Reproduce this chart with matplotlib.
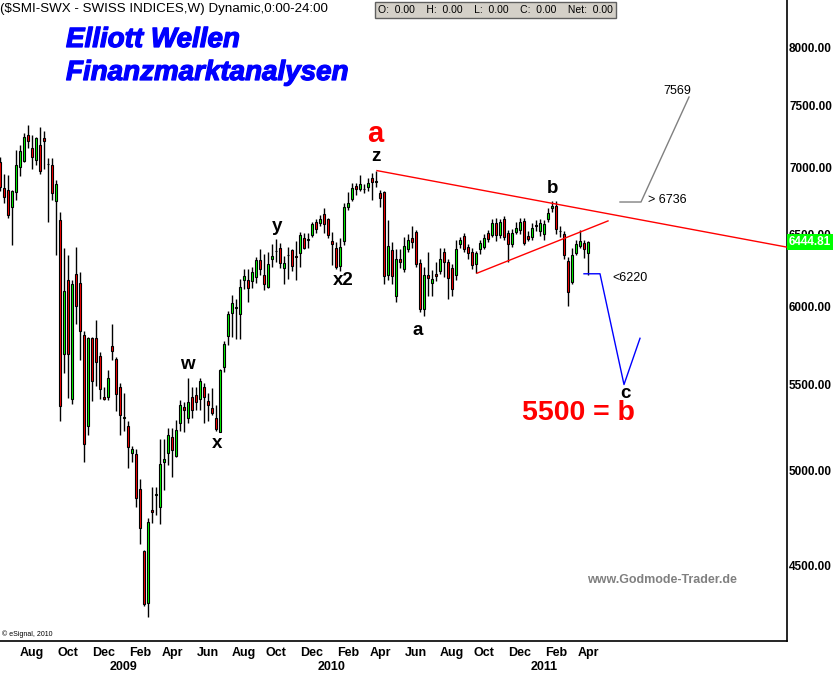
import matplotlib
matplotlib.use("Agg")
import matplotlib.pyplot as plt
import matplotlib.patheffects as pe
import matplotlib.transforms as mtransforms
from matplotlib.ticker import FixedLocator, NullLocator
import numpy as np
import pandas as pd

# weekly SMI candles, bars dated by week end (Friday)
START_DATE = "2008-06-06"

opens = [7040, 6840, 6826, 6700, 6810, 7000, 7050, 7255, 7150, 7056, 7175, 7230, 7030, 7020, 6745,
         6604, 5690, 6180, 5410, 6220, 6160, 5810, 5250, 5790, 5790, 5680, 5425, 5425, 5740, 5660,
         5485, 5300, 5250, 5096, 5090, 4900, 4570, 4315, 4785, 4865, 4800, 5045, 5095, 5190, 5080,
         5270, 5365, 5300, 5425, 5435, 5410, 5485, 5400, 5360, 5300, 5220, 5607, 5803, 5955, 5988,
         5945, 6180, 6175, 6170, 6195, 6315, 6210, 6130, 6320, 6376, 6404, 6258, 6348, 6383, 6341,
         6362, 6475, 6461, 6496, 6589, 6582, 6648, 6611, 6454, 6404, 6271, 6447, 6699, 6759, 6857,
         6834, 6834, 6849, 6917, 6890, 6804, 6811, 6210, 6383, 6069, 6320, 6251, 6390, 6475, 6518,
         6292, 5983, 6210, 6156, 6217, 6237, 6369, 6299, 6258, 6210, 6432, 6489, 6411, 6369, 6285,
         6390, 6411, 6510, 6496, 6582, 6496, 6611, 6510, 6432, 6518, 6532, 6596, 6489, 6482, 6568,
         6525, 6503, 6611, 6692, 6707, 6525, 6503, 6306, 6163, 6362, 6418, 6439, 6362]
highs = [7080, 6950, 6940, 6830, 7140, 7180, 7270, 7340, 7255, 7240, 7325, 7285, 7070, 7070, 6900,
         6660, 6400, 6350, 6180, 6410, 6230, 5840, 5800, 5800, 5910, 5700, 5485, 5590, 5880, 5670,
         5510, 5450, 5280, 5140, 5120, 4950, 4575, 4740, 4910, 4910, 5175, 5175, 5240, 5240, 5290,
         5405, 5395, 5540, 5485, 5485, 5540, 5510, 5450, 5480, 5375, 5595, 5775, 5970, 6075, 6050,
         6185, 6250, 6250, 6270, 6340, 6390, 6360, 6370, 6430, 6465, 6439, 6341, 6411, 6390, 6447,
         6518, 6510, 6510, 6590, 6611, 6640, 6690, 6620, 6518, 6440, 6470, 6730, 6811, 6880, 6880,
         6940, 6870, 6920, 6960, 6975, 6830, 6819, 6604, 6440, 6390, 6390, 6480, 6500, 6560, 6530,
         6320, 6270, 6369, 6245, 6300, 6404, 6404, 6320, 6290, 6461, 6480, 6510, 6430, 6400, 6380,
         6460, 6500, 6530, 6610, 6620, 6610, 6630, 6530, 6540, 6590, 6620, 6620, 6520, 6580, 6600,
         6610, 6600, 6690, 6740, 6740, 6560, 6520, 6334, 6400, 6460, 6530, 6460, 6450]
lows = [6820, 6730, 6620, 6420, 6750, 6930, 7040, 7150, 6985, 7020, 6950, 6985, 6590, 6750, 6350,
        5280, 5570, 5420, 5380, 5880, 5650, 5045, 5200, 5400, 5490, 5410, 5405, 5405, 5650, 5340,
        5200, 5225, 5015, 5045, 4800, 4610, 4300, 4250, 4715, 4760, 4710, 4890, 5030, 4965, 5075,
        5226, 5220, 5270, 5300, 5345, 5345, 5270, 5280, 5315, 5225, 5215, 5580, 5750, 5800, 5785,
        5785, 6115, 6030, 6120, 6155, 6210, 6110, 6125, 6265, 6305, 6258, 6149, 6183, 6237, 6176,
        6264, 6390, 6404, 6480, 6510, 6560, 6510, 6470, 6278, 6251, 6240, 6420, 6680, 6740, 6790,
        6820, 6800, 6820, 6751, 6850, 6700, 6150, 6180, 6149, 6029, 6260, 6230, 6370, 6400, 6270,
        5960, 5937, 6069, 6069, 6170, 6220, 6197, 6049, 6069, 6180, 6400, 6370, 6320, 6250, 6224,
        6360, 6390, 6440, 6480, 6450, 6470, 6460, 6300, 6410, 6500, 6500, 6420, 6450, 6460, 6520,
        6490, 6460, 6590, 6660, 6500, 6480, 6320, 6003, 6150, 6350, 6400, 6330, 6210]
closes = [6850, 6775, 6640, 6819, 7017, 7128, 7241, 7210, 7080, 7230, 6970, 7210, 7025, 6800, 6872,
          5370, 6100, 5690, 6150, 6000, 5840, 5150, 5790, 5520, 5640, 5470, 5410, 5540, 5710, 5440,
          5315, 5305, 5130, 5119, 4850, 4690, 4310, 4720, 4775, 4870, 5034, 5065, 5200, 5115, 5230,
          5375, 5345, 5395, 5345, 5395, 5520, 5425, 5375, 5330, 5235, 5588, 5752, 5950, 6020, 5992,
          6128, 6203, 6125, 6230, 6315, 6250, 6150, 6285, 6341, 6380, 6292, 6292, 6352, 6271, 6334,
          6496, 6404, 6465, 6575, 6539, 6611, 6575, 6496, 6432, 6264, 6411, 6699, 6729, 6841, 6834,
          6872, 6836, 6879, 6887, 6895, 6767, 6203, 6418, 6203, 6320, 6299, 6418, 6461, 6440, 6285,
          5983, 6210, 6190, 6183, 6203, 6320, 6299, 6190, 6115, 6397, 6461, 6390, 6362, 6278, 6362,
          6439, 6475, 6468, 6582, 6496, 6589, 6482, 6432, 6510, 6546, 6589, 6439, 6468, 6546, 6560,
          6582, 6575, 6655, 6707, 6539, 6520, 6348, 6095, 6348, 6432, 6454, 6397, 6444.81]

LAST_PRICE = 6444.81
PRICE_TICKS = [4500, 5000, 5500, 6000, 6500, 7000, 7500, 8000]

# drawn lines (week index, price)
upper_line_x = [94.25, 198.0]
upper_line_y = [6975, 6400]
lower_line_x = [119.25, 152.0]
lower_line_y = [6224, 6596]
target_up_x = [155.0, 160.25, 172.25]
target_up_y = [6736, 6736, 7569]
target_down_x = [146.0, 150.0, 156.0, 160.0]
target_down_y = [6220, 6220, 5500, 5790]

# wave labels (text, week index, price, colour, size)
wave_labels = [
    ("a", 93.75, 7265, "red", 21),
    ("z", 94.0, 7088, "black", 13.5),
    ("y", 69.25, 6558, "black", 13.5),
    ("x2", 85.75, 6176, "black", 13.5),
    ("w", 46.75, 5626, "black", 13.5),
    ("x", 54.25, 5152, "black", 13.5),
    ("a", 104.5, 5842, "black", 13.5),
    ("b", 138.25, 6840, "black", 13.5),
    ("c", 156.25, 5448, "black", 13.5),
]

W, H = 834, 675
fig = plt.figure(figsize=(W / 100, H / 100), dpi=100)
ax = fig.add_axes([0, 1 - 641 / H, 787 / W, 641 / H])

o = np.array(opens, dtype=float)
hi = np.array(highs, dtype=float)
lo = np.array(lows, dtype=float)
c = np.array(closes, dtype=float)
x = np.arange(len(c))
colors = np.where(c >= o, "#00FF00", "#FF0000")

ax.set_yscale("log")
ax.vlines(x, lo, hi, color="black", linewidth=1.0, zorder=2)
body = np.maximum(np.abs(c - o), 2.0)
ax.bar(x, body, bottom=np.minimum(o, c), width=0.6, color=colors,
       edgecolor="black", linewidth=0.8, zorder=3)

ax.plot(upper_line_x, upper_line_y, color="red", linewidth=1.0, zorder=4)
ax.plot(lower_line_x, lower_line_y, color="red", linewidth=1.0, zorder=4)
ax.plot(target_up_x, target_up_y, color="#808080", linewidth=1.0, zorder=4)
ax.plot(target_down_x, target_down_y, color="#0000FF", linewidth=1.0, zorder=4)

ax.set_xlim(0, 787 / 4)
ax.set_ylim(4137, 8430)

# right price axis
ax.yaxis.tick_right()
ax.yaxis.set_major_locator(FixedLocator(PRICE_TICKS))
ax.yaxis.set_minor_locator(NullLocator())
ax.set_yticklabels([f"{p:.2f}" for p in PRICE_TICKS])
ax.tick_params(axis="y", length=0, pad=1.5, labelsize=8.5)
for lbl in ax.get_yticklabels():
    lbl.set_fontweight("bold")
    lbl.set_fontfamily("Liberation Sans")

# month / year axis
dates = pd.date_range(START_DATE, periods=len(c), freq="W-FRI")
tick_pos, tick_lab, year_pos, year_lab = [], [], [], []
for i in range(1, len(dates)):
    if dates[i].month != dates[i - 1].month:
        if dates[i].month == 1:
            year_pos.append(i)
            year_lab.append(str(dates[i].year))
        elif dates[i].month % 2 == 0:
            tick_pos.append(i)
            tick_lab.append(dates[i].strftime("%b"))
ax.xaxis.set_major_locator(FixedLocator(tick_pos))
ax.xaxis.set_minor_locator(NullLocator())
ax.set_xticklabels(tick_lab)
ax.tick_params(axis="x", length=0, pad=4, labelsize=9)
for lbl in ax.get_xticklabels():
    lbl.set_fontfamily("Liberation Sans")
    lbl.set_fontweight("bold")

year_trans = mtransforms.blended_transform_factory(ax.transData, ax.transAxes)
for xp, yl in zip(year_pos, year_lab):
    ax.text(xp + 1, -(667 - 641) / 641, yl, transform=year_trans, ha="center", va="center",
            fontsize=9, fontweight="bold", family="Liberation Sans", clip_on=False)

for side in ["left", "top"]:
    ax.spines[side].set_visible(False)
ax.spines["right"].set_linewidth(1.2)
ax.spines["bottom"].set_linewidth(1.2)

# last price flag
trans = mtransforms.blended_transform_factory(ax.transAxes, ax.transData)
ax.text(1.002, LAST_PRICE, f"{LAST_PRICE:.2f}", transform=trans, ha="left", va="center",
        color="white", fontsize=8.5, fontweight="bold", family="Liberation Sans",
        bbox=dict(boxstyle="square,pad=0.15", facecolor="#00FF00", edgecolor="none"),
        clip_on=False, zorder=6)

for text, xi, yi, col, size in wave_labels:
    ax.text(xi, yi, text, color=col, fontsize=size, fontweight="bold",
            family="Liberation Sans", ha="center", va="center", zorder=5)

ax.text(144.5, 5328, "5500 = b", color="red", fontsize=20.5, fontweight="bold",
        family="Liberation Sans", ha="center", va="center", zorder=5)
ax.text(169.25, 7618, "7569", color="black", fontsize=9, family="Liberation Sans",
        ha="center", va="center", zorder=5)
ax.text(162.0, 6751, "> 6736", color="black", fontsize=9, family="Liberation Sans",
        ha="left", va="center", zorder=5)
ax.text(153.0, 6190, "<6220", color="black", fontsize=9, family="Liberation Sans",
        ha="left", va="center", zorder=5)

# page texts
fig.text(0.0, 1 - 9 / H, "($SMI-SWX - SWISS INDICES,W) Dynamic,0:00-24:00", fontsize=9.6,
         family="Liberation Sans", ha="left", va="center")
fig.text(378 / W, 1 - 10 / H, "O:  0.00    H:  0.00    L:  0.00    C:  0.00    Net:  0.00",
         fontsize=7.5, family="Liberation Sans", ha="left", va="center",
         bbox=dict(boxstyle="square,pad=0.3", facecolor="#d4d0c8", edgecolor="#606060"))
heavy = [pe.withStroke(linewidth=0.9, foreground="#0000FF")]
fig.text(66 / W, 1 - 40 / H, "Elliott Wellen", color="#0000FF", fontsize=20,
         fontweight="bold", fontstyle="italic", family="Liberation Sans", ha="left",
         va="center", path_effects=heavy)
fig.text(66 / W, 1 - 73 / H, "Finanzmarktanalysen", color="#0000FF", fontsize=20,
         fontweight="bold", fontstyle="italic", family="Liberation Sans", ha="left",
         va="center", path_effects=heavy)
fig.text(587 / W, 1 - 580 / H, "www.Godmode-Trader.de", color="#808080", fontsize=9,
         fontweight="bold", family="Liberation Sans", ha="left", va="center")
fig.text(2 / W, 1 - 634 / H, "\u00a9 eSignal, 2010", color="black", fontsize=5,
         family="Liberation Sans", ha="left", va="center")

fig.savefig("out.png", dpi=100)
